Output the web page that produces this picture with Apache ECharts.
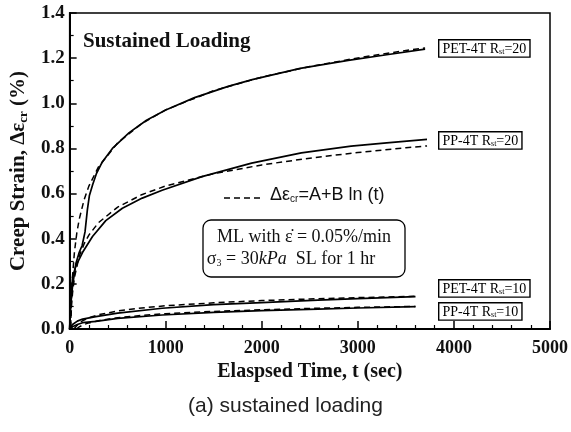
<!DOCTYPE html>
<html><head><meta charset="utf-8">
<script src="https://cdn.jsdelivr.net/npm/echarts@6/dist/echarts.min.js"></script>
<style>html,body{margin:0;padding:0;background:#fff}#c{width:571px;height:432px}</style>
</head><body><div id="c"></div>
<script>
// ---- data ----
const xTicks = [0, 1000, 2000, 3000, 4000, 5000];
const yTicks = [0.0, 0.2, 0.4, 0.6, 0.8, 1.0, 1.2, 1.4];

const pet20_t = [0, 10, 30, 65, 100, 130, 160, 185, 205, 240, 280, 340, 445, 620, 800, 1000, 1300, 1650, 1900, 2400, 2900, 3300, 3700];
const pet20_v = [0, 0.10, 0.19, 0.29, 0.34, 0.37, 0.43, 0.53, 0.59, 0.64, 0.69, 0.74, 0.80, 0.87, 0.925, 0.97, 1.025, 1.075, 1.105, 1.155, 1.19, 1.215, 1.24];
const pet20fit_t = [10, 15, 20, 30, 50, 75, 100, 150, 200, 300, 500, 750, 1000, 1500, 2000, 2500, 3000, 3500, 3700];
const pet20fit_v = [0.004, 0.089, 0.149, 0.234, 0.342, 0.427, 0.487, 0.572, 0.633, 0.718, 0.825, 0.910, 0.971, 1.056, 1.116, 1.163, 1.201, 1.234, 1.245];

const pp20_t = [0, 10, 31, 65, 135, 238, 376, 549, 756, 963, 1377, 1894, 2412, 2930, 3300, 3720];
const pp20_v = [0, 0.12, 0.23, 0.28, 0.34, 0.41, 0.48, 0.535, 0.58, 0.615, 0.675, 0.735, 0.78, 0.81, 0.825, 0.84];
const pp20fit_t = [10, 20, 30, 50, 100, 150, 200, 300, 500, 750, 1000, 1500, 2000, 2500, 3000, 3500, 3720];
const pp20fit_v = [0.012, 0.105, 0.160, 0.229, 0.323, 0.377, 0.416, 0.471, 0.540, 0.595, 0.634, 0.688, 0.727, 0.757, 0.782, 0.803, 0.811];

const pet10_t = [0, 30, 80, 135, 273, 500, 963, 1500, 1998, 2585, 3000, 3600];
const pet10_v = [0, 0.02, 0.035, 0.044, 0.055, 0.07, 0.092, 0.108, 0.117, 0.128, 0.135, 0.143];
const pet10fit_t = [44, 50, 100, 150, 200, 300, 500, 750, 1000, 1500, 2000, 2500, 3000, 3600];
const pet10fit_v = [0, 0.004, 0.027, 0.040, 0.050, 0.063, 0.080, 0.093, 0.103, 0.116, 0.126, 0.133, 0.139, 0.145];

const pp10_t = [0, 30, 80, 135, 273, 500, 963, 1500, 1998, 2585, 3000, 3600];
const pp10_v = [0, 0.01, 0.02, 0.028, 0.034, 0.047, 0.062, 0.074, 0.081, 0.088, 0.093, 0.099];
const pp10fit_t = [70, 100, 150, 200, 300, 500, 750, 1000, 1500, 2000, 2500, 3000, 3600];
const pp10fit_v = [0, 0.0095, 0.020, 0.027, 0.037, 0.050, 0.060, 0.068, 0.078, 0.085, 0.091, 0.096, 0.100];

// ---- build ----
const pairs = (t, v) => t.map((x, i) => [x, v[i]]);
const SERIF = "'Liberation Serif','Times New Roman',serif";
const SANS = "'Liberation Sans',Arial,sans-serif";

function line(t, v, dashed) {
  return {
    type: 'line', data: pairs(t, v), showSymbol: false, smooth: false,
    lineStyle: { color: '#000', width: dashed ? 1.5 : 1.7, type: dashed ? [6, 4] : 'solid' },
    animation: false, z: dashed ? 3 : 2
  };
}

const boxStyle = (text, x, y) => ({
  type: 'text', left: x, top: y, z: 10,
  style: {
    text: text, font: "14px " + SERIF, fill: '#000',
    backgroundColor: '#fff', borderColor: '#000', borderWidth: 1.4,
    padding: [1, 3, 0, 3],
    rich: { s: { font: "8px " + SERIF, fill: '#000', verticalAlign: 'bottom', padding: [7, 0, 0, 0] } }
  }
});

const chart = echarts.init(document.getElementById('c'), null, { renderer: 'canvas' });
chart.setOption({
  animation: false,
  backgroundColor: '#fff',
  grid: { left: 67, right: 21, top: 13, bottom: 103, show: true, borderColor: '#000', borderWidth: 1.5, backgroundColor: 'transparent' },
  xAxis: {
    type: 'value', min: xTicks[0], max: xTicks[xTicks.length - 1], interval: xTicks[1] - xTicks[0],
    axisLine: { lineStyle: { color: '#000', width: 2 } },
    axisTick: { inside: true, length: 8, lineStyle: { color: '#000', width: 1.5 } },
    minorTick: { show: true, splitNumber: 5, length: 4, lineStyle: { color: '#000', width: 1.2 } },
    splitLine: { show: false },
    axisLabel: { margin: 10, color: '#111', fontFamily: SERIF, fontWeight: 'bold', fontSize: 18, formatter: v => String(v) },
    name: 'Elaspsed Time, t (sec)', nameLocation: 'middle', nameGap: 29,
    nameTextStyle: { color: '#111', fontFamily: SERIF, fontWeight: 'bold', fontSize: 20 }
  },
  yAxis: {
    type: 'value', min: yTicks[0], max: yTicks[yTicks.length - 1], interval: yTicks[1] - yTicks[0],
    axisLine: { lineStyle: { color: '#000', width: 2 } },
    axisTick: { inside: true, length: 7, lineStyle: { color: '#000', width: 1.5 } },
    minorTick: { show: true, splitNumber: 2, length: 4, lineStyle: { color: '#000', width: 1.2 } },
    splitLine: { show: false },
    axisLabel: { margin: 5, color: '#111', fontFamily: SERIF, fontWeight: 'bold', fontSize: 19, formatter: v => v.toFixed(1) },
    name: 'Creep Strain, Δε{s|cr} (%)', nameLocation: 'middle', nameGap: 37, nameRotate: 90,
    nameTextStyle: { color: '#111', fontFamily: SERIF, fontWeight: 'bold', fontSize: 21,
      rich: { s: { fontFamily: SERIF, fontWeight: 'bold', fontSize: 13, color: '#111', verticalAlign: 'bottom', padding: [10, 0, 0, 0] } } }
  },
  series: [
    line(pet20_t, pet20_v, false), line(pet20fit_t, pet20fit_v, true),
    line(pp20_t, pp20_v, false), line(pp20fit_t, pp20fit_v, true),
    line(pet10_t, pet10_v, false), line(pet10fit_t, pet10fit_v, true),
    line(pp10_t, pp10_v, false), line(pp10fit_t, pp10fit_v, true)
  ],
  graphic: [
    { type: 'text', left: 83, top: 31, z: 10, style: { text: 'Sustained Loading', font: "bold 21px " + SERIF, fill: '#111' } },
    boxStyle('PET-4T R{s|st}=20', 438, 39),
    boxStyle('PP-4T R{s|st}=20', 438, 131),
    boxStyle('PET-4T R{s|st}=10', 438, 279),
    boxStyle('PP-4T R{s|st}=10', 438, 302),
    { type: 'line', z: 10, shape: { x1: 224, y1: 198, x2: 264, y2: 198 }, style: { stroke: '#000', lineWidth: 1.5, lineDash: [6, 4] } },
    { type: 'text', left: 270, top: 186, z: 10, style: { text: 'Δε{s|cr}=A+B ln (t)', font: "18px " + SANS, fill: '#111',
      rich: { s: { font: "10px " + SANS, fill: '#111', verticalAlign: 'bottom', padding: [8, 0, 0, 0] } } } },
    { type: 'rect', z: 9, shape: { x: 203, y: 220, width: 202, height: 57, r: 8 }, style: { fill: '#fff', stroke: '#000', lineWidth: 1.3 } },
    { type: 'text', x: 304, y: 237, z: 10, style: { text: 'ML with ε̇ = 0.05%/min', font: "18px " + SERIF, fill: '#111', textAlign: 'center', textVerticalAlign: 'middle' } },
    { type: 'text', x: 291, y: 259, z: 10, style: { text: 'σ{s|3} = 30{i|kPa}  SL for 1 hr', font: "18px " + SERIF, fill: '#111', textAlign: 'center', textVerticalAlign: 'middle',
      rich: { s: { font: "10px " + SERIF, fill: '#111', verticalAlign: 'bottom', padding: [7, 0, 0, 0] }, i: { font: "italic 18px " + SERIF, fill: '#111' } } } },
    { type: 'text', left: 'center', top: 396, z: 10, style: { text: '(a) sustained loading', font: "21px " + SANS, fill: '#222' } }
  ]
});
</script></body></html>
